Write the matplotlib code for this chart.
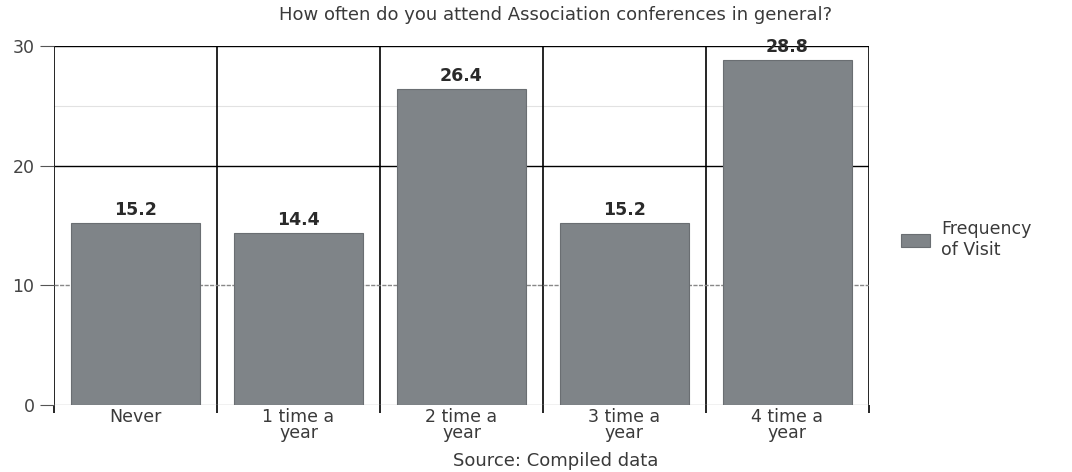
import numpy as np
import matplotlib
matplotlib.use('Agg')
import matplotlib.pyplot as plt

plt.rcParams['font.family'] = ['DejaVu Sans']

categories = ['Never', '1 time a\nyear', '2 time a\nyear', '3 time a\nyear', '4 time a\nyear']
frequency = [15.2, 14.4, 26.4, 15.2, 28.8]
yticks = [0, 10, 20, 30]

fig = plt.figure(figsize=(10.72, 4.72), dpi=100)
ax = fig.add_axes([0.0504, 0.142, 0.7602, 0.7605])

x = np.arange(len(categories))
bars = ax.bar(x, frequency, width=0.79, color='#7f8488', edgecolor='#6a6e72',
              linewidth=0.8, label='Frequency\nof Visit', zorder=3)
ax.bar_label(bars, fmt='%.1f', fontweight='bold', fontsize=12.5, padding=3,
             color='#2a2a2a')

ax.set_xlim(-0.5, len(categories) - 0.5)
ax.set_ylim(0, 30)
ax.set_yticks(yticks)
ax.set_yticklabels([str(t) for t in yticks], fontsize=12.5, color='#444444')
ax.set_xticks(x)
ax.set_xticklabels(categories, fontsize=12.5, color='#3a3a3a', linespacing=0.9)
ax.tick_params(axis='x', length=0, pad=2)
ax.tick_params(axis='y', length=10, width=0.8, color='#555555', pad=4)

# category separators
ax.set_xticks(np.arange(-0.5, len(categories)), minor=True)
ax.tick_params(axis='x', which='minor', length=6, color='black', width=1.2)
ax.grid(which='minor', axis='x', color='black', linewidth=1.2, zorder=1)

# horizontal gridlines
ax.yaxis.grid(True, color='black', linewidth=1.0, zorder=1)
ylines = ax.get_ygridlines()
ylines[0].set_color('#bbbbbb')
ylines[1].set_color('#888888')
ylines[1].set_linestyle((0, (3, 1)))
ax.axhline(25, color='#e2e2e2', linewidth=0.8, zorder=1)

for side in ['left', 'right', 'top', 'bottom']:
    ax.spines[side].set_visible(False)

fig.text(0.518, 0.968, 'How often do you attend Association conferences in general?',
         fontsize=13, color='#3a3a3a', ha='center', va='center')

fig.text(0.518, 0.023, 'Source: Compiled data', fontsize=13, color='#3a3a3a',
         ha='center', va='center')

ax.legend(loc='center left', bbox_to_anchor=(1.02, 0.46), frameon=False,
          fontsize=12.5, handlelength=1.7, handleheight=0.8, labelspacing=0.1,
          handletextpad=0.6, labelcolor='#3a3a3a')

fig.savefig('out.png', dpi=100)
